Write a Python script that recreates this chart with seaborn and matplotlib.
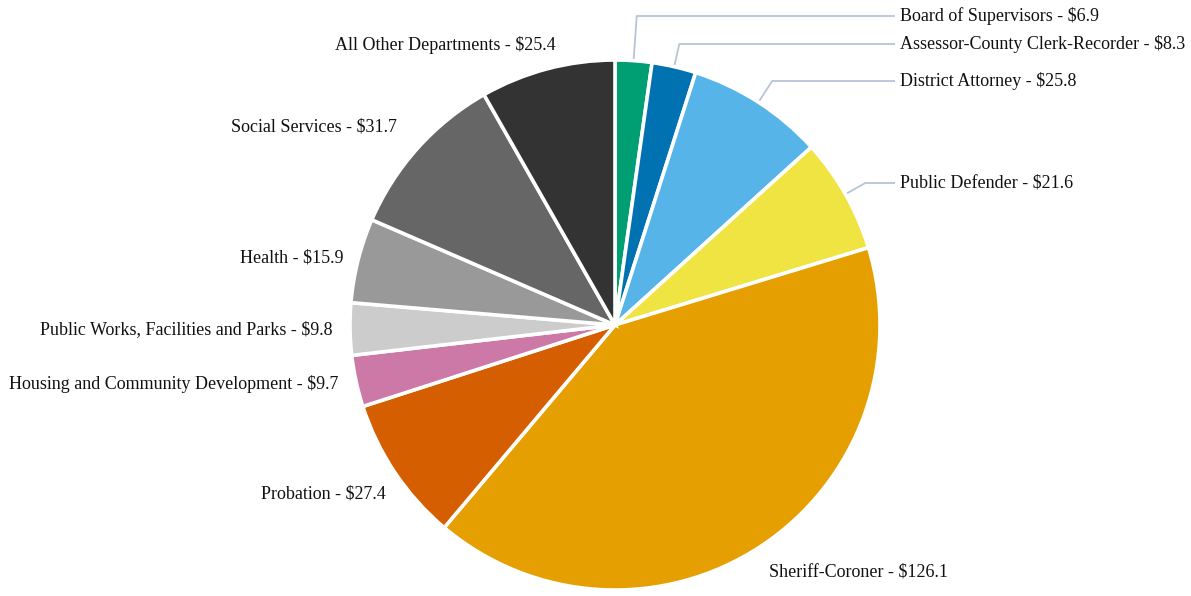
import matplotlib
matplotlib.use("Agg")
import matplotlib.pyplot as plt
import numpy as np
import seaborn as sns

# Department budgets (millions of dollars), clockwise from 12 o'clock
departments = [
    "Board of Supervisors",
    "Assessor-County Clerk-Recorder",
    "District Attorney",
    "Public Defender",
    "Sheriff-Coroner",
    "Probation",
    "Housing and Community Development",
    "Public Works, Facilities and Parks",
    "Health",
    "Social Services",
    "All Other Departments",
]
amounts = [6.9, 8.3, 25.8, 21.6, 126.1, 27.4, 9.7, 9.8, 15.9, 31.7, 25.4]
colors = ["#009E73", "#0072B2", "#56B4E9", "#F0E442", "#E69F00", "#D55E00",
          "#CC79A7", "#CCCCCC", "#999999", "#666666", "#333333"]

sns.set_theme(style="white")
plt.rcParams["font.family"] = ["Liberation Serif", "DejaVu Serif"]

W, H = 1191, 596
fig = plt.figure(figsize=(W / 100, H / 100), dpi=100)
ax = fig.add_axes([0, 0, 1, 1])
ax.axis("off")

cx, cy, R = 615, H - 325, 265
explode = [0.016 if d == "Sheriff-Coroner" else 0 for d in departments]

wedges, _ = ax.pie(
    amounts, colors=colors, startangle=90, counterclock=False,
    center=(cx, cy), radius=R, explode=explode,
    wedgeprops=dict(edgecolor="white", linewidth=2.6),
)
ax.set_xlim(0, W)
ax.set_ylim(0, H)
ax.set_aspect("equal")

fs = 13
labels = [f"{d} - ${v:g}" for d, v in zip(departments, amounts)]

# Labels on the right with elbow connectors (label y in pixel rows from top)
right_rows = {"Board of Supervisors": 16, "Assessor-County Clerk-Recorder": 44,
              "District Attorney": 81, "Public Defender": 183}
total = sum(amounts)
cum = 0.0
for d, v, lab in zip(departments, amounts, labels):
    mid = np.deg2rad((cum + v / 2) / total * 360)  # clockwise from top
    cum += v
    if d in right_rows:
        ly = H - right_rows[d]
        sx, sy = cx + R * np.sin(mid), cy + R * np.cos(mid)
        r_el = (ly - cy) / np.cos(mid)
        ex, ey = cx + r_el * np.sin(mid), ly
        ax.plot([sx, ex, 895], [sy, ey, ly], color="#B8C4D6", lw=1.3,
                solid_capstyle="butt", zorder=0)
        ax.text(900, ly, lab, ha="left", va="center", fontsize=fs, color="#111111")

# Remaining labels placed beside their slices
free = {
    "Sheriff-Coroner": (769, 572, "left"),
    "Probation": (386, 494, "right"),
    "Housing and Community Development": (338, 384, "right"),
    "Public Works, Facilities and Parks": (333, 330, "right"),
    "Health": (343, 258, "right"),
    "Social Services": (397, 127, "right"),
    "All Other Departments": (556, 45, "right"),
}
for d, lab in zip(departments, labels):
    if d in free:
        x, y, ha = free[d]
        ax.text(x, H - y, lab, ha=ha, va="center", fontsize=fs, color="#111111")

fig.savefig("out.png", dpi=100, facecolor="white")
